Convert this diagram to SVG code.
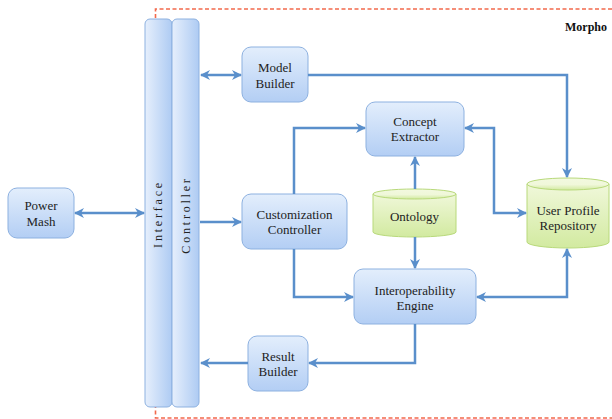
<svg xmlns="http://www.w3.org/2000/svg" width="612" height="419" viewBox="0 0 612 419">
<defs>
<linearGradient id="gBox" x1="0" y1="0" x2="0" y2="1"><stop offset="0" stop-color="#e3eefc"/><stop offset="1" stop-color="#b3cef4"/></linearGradient>
<linearGradient id="gCol" x1="0" y1="0" x2="1" y2="0"><stop offset="0" stop-color="#e6effc"/><stop offset="1" stop-color="#aecbf3"/></linearGradient>
<linearGradient id="gCyl" x1="0" y1="0" x2="0" y2="1"><stop offset="0" stop-color="#f3f9e0"/><stop offset="1" stop-color="#d2eaa0"/></linearGradient>
<marker id="ah" viewBox="0 0 10 10" refX="9" refY="5" markerWidth="4" markerHeight="4" orient="auto-start-reverse" markerUnits="strokeWidth">
<path d="M0,0 L10,5 L0,10 L3,5 Z" fill="#5a8fcb"/>
</marker>
<style>
.box{fill:url(#gBox);stroke:#8db1e0;stroke-width:1}
.col{fill:url(#gCol);stroke:#8db1e0;stroke-width:1}
.cyl{fill:url(#gCyl);stroke:#b8d97a;stroke-width:1}
.t{font-family:"Liberation Serif",serif;font-size:13px;fill:#222;text-anchor:middle}
.ct{font-family:"Liberation Serif",serif;font-size:12px;fill:#222;text-anchor:middle;letter-spacing:2.8px}
.c{fill:none;stroke:#5a8fcb;stroke-width:2.5}
.b{fill:none;stroke:#f2694c;stroke-width:1.6;stroke-dasharray:4 2.5}
</style>
</defs>
<path class="b" d="M612,9 H155.5 V418 H612"/>
<text x="607" y="31" font-family="Liberation Serif,serif" font-size="12" font-weight="bold" fill="#111" text-anchor="end">Morpho</text>
<g id="interface"><rect class="col" x="145" y="19" width="27" height="388" rx="5"/><text class="ct" transform="translate(162,214) rotate(-90)">Interface</text></g>
<g id="controller"><rect class="col" x="172" y="19" width="27" height="388" rx="5"/><text class="ct" transform="translate(190,215) rotate(-90)">Controller</text></g>
<g id="powermash"><rect class="box" x="8" y="188" width="66" height="50" rx="9"/><text class="t" x="41" y="210">Power</text><text class="t" x="41" y="226">Mash</text></g>
<g id="modelbuilder"><rect class="box" x="242" y="47" width="66" height="55" rx="9"/><text class="t" x="275" y="72">Model</text><text class="t" x="275" y="88">Builder</text></g>
<g id="conceptextractor"><rect class="box" x="366" y="102" width="98" height="54" rx="9"/><text class="t" x="415" y="126">Concept</text><text class="t" x="415" y="141">Extractor</text></g>
<g id="customization"><rect class="box" x="242" y="194" width="105" height="55" rx="9"/><text class="t" x="294.5" y="219">Customization</text><text class="t" x="294.5" y="234">Controller</text></g>
<g id="interop"><rect class="box" x="354" y="269" width="122" height="55" rx="9"/><text class="t" x="415" y="295">Interoperability</text><text class="t" x="415" y="310">Engine</text></g>
<g id="resultbuilder"><rect class="box" x="248" y="336" width="60" height="55" rx="9"/><text class="t" x="278" y="361">Result</text><text class="t" x="278" y="376">Builder</text></g>
<g id="ontology"><path class="cyl" d="M373,194 A41.5,5 0 0 1 456,194 V232 A41.5,5 0 0 1 373,232 Z"/><path class="cyl" d="M373,194 A41.5,5 0 0 0 456,194" fill="none"/><text class="t" x="414.5" y="221">Ontology</text></g>
<g id="userprofile"><path class="cyl" d="M527,184 A41,6 0 0 1 609,184 V242 A41,6 0 0 1 527,242 Z"/><path class="cyl" d="M527,184 A41,6 0 0 0 609,184" fill="none"/><text class="t" x="568" y="215">User Profile</text><text class="t" x="568" y="230">Repository</text></g>
<g id="connectors">
<path class="c" d="M75,213 H144" marker-start="url(#ah)" marker-end="url(#ah)"/>
<path class="c" d="M201,75 H241" marker-start="url(#ah)" marker-end="url(#ah)"/>
<path class="c" d="M308,75 H567 V177" marker-end="url(#ah)"/>
<path class="c" d="M200,222 H241" marker-end="url(#ah)"/>
<path class="c" d="M294,194 V128 H365" marker-end="url(#ah)"/>
<path class="c" d="M294,249 V297 H353" marker-end="url(#ah)"/>
<path class="c" d="M415,189 V157" marker-end="url(#ah)"/>
<path class="c" d="M415,237 V268" marker-end="url(#ah)"/>
<path class="c" d="M465,128 H494 V213 H526" marker-start="url(#ah)" marker-end="url(#ah)"/>
<path class="c" d="M477,297 H567 V249" marker-start="url(#ah)" marker-end="url(#ah)"/>
<path class="c" d="M415,324 V363 H309" marker-end="url(#ah)"/>
<path class="c" d="M248,363 H201" marker-end="url(#ah)"/>
</g>
</svg>
